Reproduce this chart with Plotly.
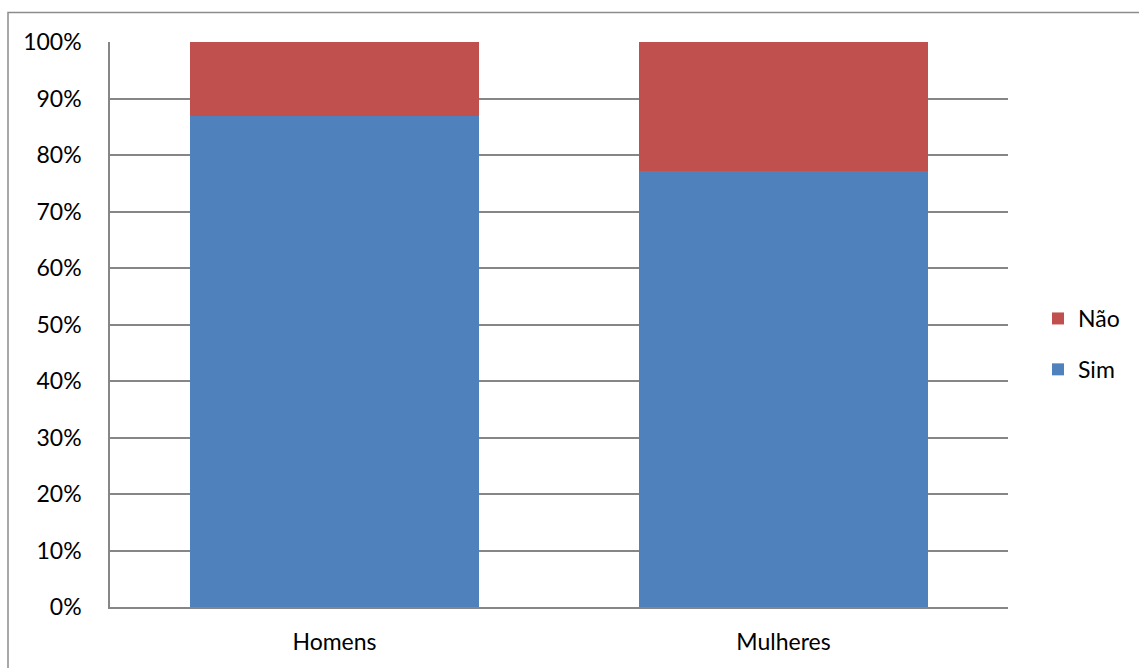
import plotly.graph_objects as go

categories = ["Homens", "Mulheres"]
sim = [86.9, 77.2]
nao = [13.1, 22.8]
tick_vals = [0, 10, 20, 30, 40, 50, 60, 70, 80, 90, 100]
tick_text = [f"{v}%" for v in tick_vals]

W, H = 1139, 668
L, R, T, B = 110, 131, 42, 61
pw, ph = W - L - R, H - T - B

font = dict(family="Lato, Carlito, Calibri, sans-serif", size=23, color="#000000")

fig = go.Figure()
fig.add_trace(go.Bar(x=categories, y=sim, name="Sim", legendgroup="sim", legendrank=2,
                     marker=dict(color="#4F81BD", line=dict(width=0))))
fig.add_trace(go.Bar(x=categories, y=nao, name="Não", legendgroup="nao", legendrank=1,
                     marker=dict(color="#C0504D", line=dict(width=0))))

# outer chart frame
fig.add_shape(type="rect", xref="paper", yref="paper",
              x0=(8 - L) / pw, x1=2, y0=-1, y1=(H - B - 12.5) / ph,
              line=dict(color="#8c8c8c", width=1.5), fillcolor="rgba(0,0,0,0)", layer="below")

fig.update_layout(
    width=W, height=H,
    margin=dict(l=L, r=R, t=T, b=B, autoexpand=False),
    barmode="stack",
    bargap=0.356,
    plot_bgcolor="white", paper_bgcolor="white",
    font=font,
    showlegend=True,
    legend=dict(xref="container", yref="container", x=1038 / W, xanchor="left",
                y=1 - 344 / H, yanchor="middle",
                traceorder="grouped", font=font, itemwidth=30, tracegroupgap=18,
                bgcolor="rgba(0,0,0,0)"),
    xaxis=dict(showline=True, linecolor="#868686", linewidth=1.5, ticks="", showgrid=False,
               tickfont=font, ticklabelstandoff=14, mirror=False, automargin=False),
    yaxis=dict(range=[0, 100], tickvals=tick_vals, ticktext=tick_text, showgrid=True,
               gridcolor="#868686", gridwidth=1.5, showline=True, linecolor="#868686",
               linewidth=1.5, ticks="", ticklabelstandoff=22, tickfont=font, zeroline=False,
               automargin=False),
)

fig.write_html("out.html")
